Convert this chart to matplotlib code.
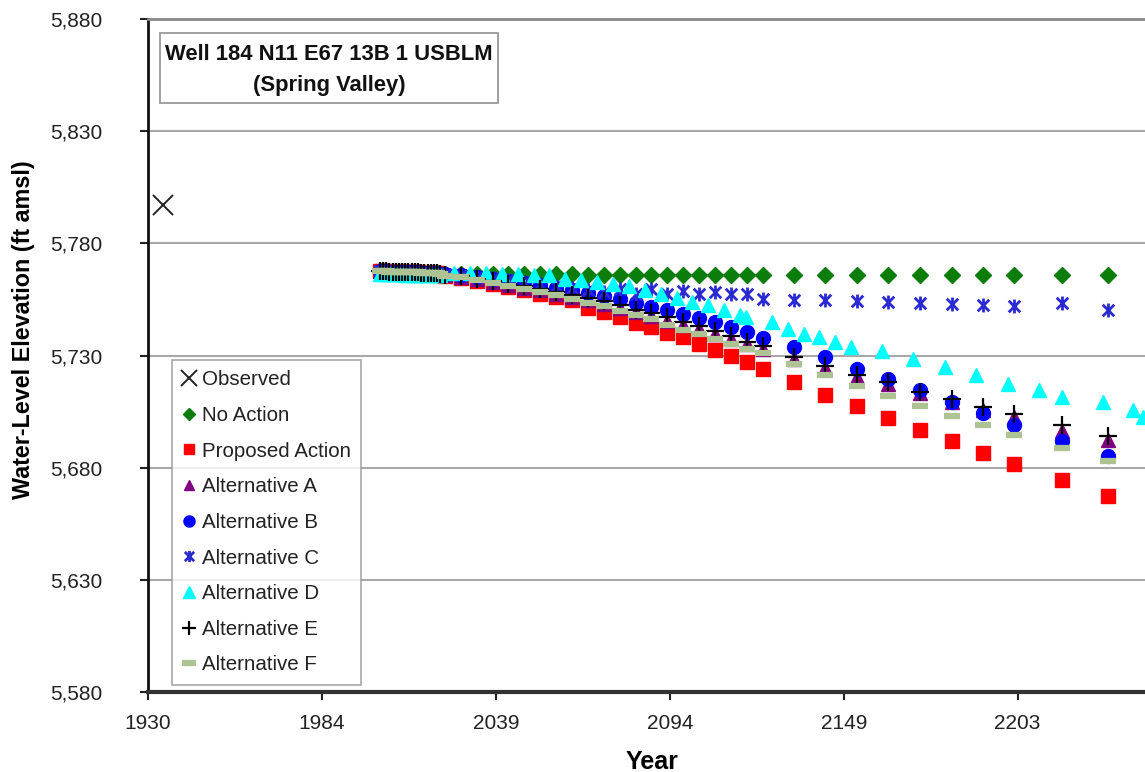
import matplotlib
matplotlib.use("Agg")
import matplotlib.pyplot as plt
from matplotlib.path import Path
from matplotlib.patches import Rectangle

plt.rcParams['font.family'] = ['Liberation Sans', 'DejaVu Sans']

# ---------------- data ----------------
obs_years = [1934.7]
obs_elev = [5797.0]

years_main = [2003, 2004, 2005, 2006, 2007, 2008, 2009, 2010, 2011, 2012,
              2013, 2014, 2015, 2016, 2017, 2018, 2019, 2020, 2021, 2022,
              2023.5, 2028.5, 2033.5, 2038.5, 2043.5, 2048.5, 2053.5, 2058.5,
              2063.5, 2068.5, 2073.5, 2078.5, 2083.5, 2088.5, 2093.5, 2098.5,
              2103.5, 2108.5, 2113.5, 2118.5, 2123.5,
              2133.3, 2143.2, 2153.1, 2163.1, 2173.1, 2183.1, 2192.9, 2202.8,
              2217.7, 2232.4]

early = [5767.6, 5767.5, 5767.5, 5767.4, 5767.4, 5767.3, 5767.3, 5767.2, 5767.2, 5767.1,
         5767.1, 5767.0, 5767.0, 5766.9, 5766.9, 5766.8, 5766.8, 5766.7, 5766.6, 5766.5]

no_action = early + [5766.4, 5766.4, 5766.3, 5766.3, 5766.3, 5766.2, 5766.2, 5766.2,
                     5766.2, 5766.1, 5766.1, 5766.1, 5766.1, 5766.0, 5766.0, 5766.0,
                     5766.0, 5766.0, 5765.9, 5765.9, 5765.9,
                     5765.9, 5765.9, 5765.9, 5765.8, 5765.8, 5765.8, 5765.8, 5765.8,
                     5765.8, 5765.8]

proposed = early + [5765.6, 5764.6, 5763.3, 5761.9, 5760.5, 5759.0, 5757.6, 5756.0,
                    5754.6, 5751.2, 5749.3, 5747.1, 5744.6, 5742.6, 5740.0, 5738.2,
                    5735.2, 5732.6, 5730.0, 5727.0, 5724.1,
                    5718.4, 5712.6, 5707.7, 5702.2, 5696.8, 5691.7, 5686.6, 5681.6,
                    5674.5, 5667.4]

alt_a = early + [5765.8, 5765.0, 5764.0, 5762.8, 5761.6, 5760.3, 5759.0, 5757.6,
                 5756.2, 5754.7, 5753.0, 5751.3, 5749.5, 5747.8, 5745.5, 5743.5,
                 5741.8, 5739.6, 5737.2, 5735.0, 5733.0,
                 5728.5, 5724.5, 5720.6, 5717.1, 5713.2, 5709.2, 5705.8, 5702.5,
                 5696.5, 5692.4]

alt_b = early + [5766.3, 5765.8, 5765.0, 5764.1, 5763.2, 5762.3, 5761.3, 5760.2,
                 5759.0, 5757.8, 5756.6, 5755.0, 5753.3, 5751.6, 5750.1, 5748.6,
                 5746.8, 5744.9, 5742.6, 5740.4, 5737.9,
                 5733.7, 5729.2, 5724.1, 5719.6, 5714.4, 5709.2, 5704.2, 5699.2,
                 5692.1, 5685.4]

alt_c = early + [5766.3, 5765.9, 5765.2, 5764.4, 5763.5, 5762.6, 5761.7, 5760.8,
                 5760.0, 5759.4, 5758.3, 5759.8, 5757.6, 5759.5, 5757.6, 5758.8,
                 5757.5, 5758.2, 5757.6, 5757.5, 5755.3,
                 5754.9, 5754.6, 5754.1, 5753.8, 5753.5, 5752.8, 5752.3, 5751.9,
                 5753.4, 5750.5]

alt_e = early + [5766.0, 5765.3, 5764.3, 5763.2, 5762.0, 5760.8, 5759.6, 5758.3,
                 5757.0, 5755.6, 5754.1, 5752.4, 5750.5, 5749.0, 5747.0, 5745.0,
                 5743.0, 5741.0, 5738.5, 5736.0, 5734.2,
                 5729.2, 5725.5, 5721.1, 5718.1, 5713.6, 5710.7, 5707.2, 5704.0,
                 5699.2, 5694.3]

alt_f = early + [5765.6, 5764.8, 5763.7, 5762.4, 5761.1, 5759.7, 5758.3, 5756.8,
                 5755.2, 5753.6, 5751.9, 5750.0, 5747.9, 5746.4, 5743.4, 5741.2,
                 5739.7, 5737.5, 5735.2, 5733.0, 5731.0,
                 5726.3, 5721.5, 5716.6, 5712.1, 5707.7, 5703.2, 5699.1, 5694.7,
                 5688.8, 5682.8]

years_d = [2003, 2004, 2005, 2006, 2007, 2008, 2009, 2010, 2011, 2012,
           2013, 2014, 2015, 2016, 2017, 2018, 2019, 2020, 2021, 2022,
           2026.4, 2031.4, 2036.4, 2041.4, 2046.4, 2051.4, 2056.4, 2061.4,
           2066.4, 2071.4, 2076.4, 2081.4, 2086.4, 2091.4, 2096.4, 2101.4,
           2106.4, 2111.4, 2116.4, 2118.2, 2126.4, 2131.4, 2136.4, 2141.4,
           2146.4, 2151.4, 2161.0, 2171.0, 2181.0, 2190.8, 2200.8, 2210.6,
           2217.7, 2230.6, 2240.2, 2243.3]
alt_d = [5766.4, 5766.4, 5766.3, 5766.3, 5766.3, 5766.2, 5766.2, 5766.2, 5766.1, 5766.1,
         5766.1, 5766.0, 5766.0, 5766.0, 5766.0, 5765.9, 5765.9, 5765.9, 5765.9, 5765.8,
         5766.9, 5766.8, 5766.7, 5766.5, 5766.3, 5766.0, 5765.7, 5764.3,
         5763.5, 5762.8, 5762.0, 5760.9, 5759.4, 5757.5, 5755.6, 5753.8,
         5752.3, 5750.5, 5747.9, 5747.1, 5744.9, 5741.9, 5739.7, 5738.2,
         5735.9, 5733.7, 5732.0, 5728.5, 5724.8, 5721.1, 5717.5, 5714.4,
         5711.4, 5709.2, 5705.5, 5702.5]

x_tick_vals = [1930.0, 1984.76, 2039.52, 2094.28, 2149.04, 2203.8]
x_tick_labels = ['1930', '1984', '2039', '2094', '2149', '2203']
y_ticks = [5580, 5630, 5680, 5730, 5780, 5830, 5880]
y_tick_labels = ['5,580', '5,630', '5,680', '5,730', '5,780', '5,830', '5,880']

title_lines = ['Well 184 N11 E67 13B 1 USBLM', '(Spring Valley)']

# ---------------- figure ----------------
W, H = 1145, 772
fig = plt.figure(figsize=(W / 100, H / 100), dpi=100)
ax_l, ax_r, ax_t, ax_b = 148, 1145, 19, 692
AW, AH = ax_r - ax_l, ax_b - ax_t
ax = fig.add_axes([ax_l / W, 1 - ax_b / H, AW / W, AH / H])


def fx(px):
    return (px - ax_l) / AW


def fy(py):
    return 1 - (py - ax_t) / AH


ax.set_xlim(1930, 2243.9)
ax.set_ylim(5580, 5880)

star = Path([(-1, -1), (1, 1), (-1, 1), (1, -1), (0, -1.2), (0, 1.2)],
            [Path.MOVETO, Path.LINETO, Path.MOVETO, Path.LINETO, Path.MOVETO, Path.LINETO])

ax.plot(obs_years, obs_elev, ls='none', marker='x', ms=15, mew=1.4, color='#222222',
        label='Observed', zorder=3)
ax.plot(years_main, no_action, ls='none', marker='D', ms=8, color='#0a7d0a',
        label='No Action', zorder=3)
ax.plot(years_main, proposed, ls='none', marker='s', ms=9.5, color='#ff0000',
        label='Proposed Action', zorder=3)
ax.plot(years_main, alt_a, ls='none', marker='^', ms=9.5, color='#800080',
        label='Alternative A', zorder=3)
ax.plot(years_main, alt_b, ls='none', marker='o', ms=10, color='#0000ff',
        label='Alternative B', zorder=3)
ax.plot(years_main, alt_c, ls='none', marker=star, ms=10, mew=2, color='#2a2ad0',
        label='Alternative C', zorder=3)
ax.plot(years_d, alt_d, ls='none', marker='^', ms=10, color='#00ffff',
        label='Alternative D', zorder=3)
ax.plot(years_main, alt_e, ls='none', marker='+', ms=13, mew=1.6, color='#000000',
        label='Alternative E', zorder=3)
ax.plot(years_main, alt_f, ls='none', marker='_', ms=12, mew=4.5, color='#aec394',
        label='Alternative F', zorder=3)

ax.set_xticks(x_tick_vals)
ax.set_xticklabels(x_tick_labels, fontsize=15, color='#222222')
ax.set_yticks(y_ticks)
ax.set_yticklabels(y_tick_labels, fontsize=15, color='#222222')
ax.tick_params(axis='both', direction='out', length=6, width=1.5, color='#222222')
ax.tick_params(axis='y', pad=27)
ax.tick_params(axis='x', pad=10)

ax.grid(axis='y', color='#a8a8a8', lw=1.5)
ax.set_axisbelow(True)
ax.spines['right'].set_visible(False)
ax.spines['top'].set_color('#888888')
ax.spines['top'].set_linewidth(2)
ax.spines['left'].set_color('#111111')
ax.spines['left'].set_linewidth(2)
ax.spines['bottom'].set_color('#333333')
ax.spines['bottom'].set_linewidth(3)

ax.set_xlabel('Year', fontsize=18, fontweight='bold')
ax.xaxis.set_label_coords(fx(652), fy(750))
ax.set_ylabel('Water-Level Elevation (ft amsl)', fontsize=16.8, fontweight='bold')
ax.yaxis.set_label_coords(fx(35), fy(330))

# title box
ax.add_patch(Rectangle((fx(160), fy(103)), fx(498) - fx(160), fy(33) - fy(103),
                       transform=ax.transAxes, fc='white', ec='#999999', lw=1.3, zorder=4))
ax.text(fx(329), fy(54), title_lines[0], transform=ax.transAxes, ha='center', va='center',
        fontsize=15.8, fontweight='bold', color='#111111', zorder=5)
ax.text(fx(329), fy(86), title_lines[1], transform=ax.transAxes, ha='center', va='center',
        fontsize=15.8, fontweight='bold', color='#111111', zorder=5)

leg = ax.legend(loc='upper left', bbox_to_anchor=(fx(172), fy(360)),
                fontsize=14.8, frameon=True, fancybox=False, edgecolor='#999999',
                handlelength=0.7, handletextpad=0.25, labelspacing=0.81,
                borderpad=0.5, borderaxespad=0, markerscale=0.8)
leg.get_frame().set_linewidth(1.3)
for t in leg.get_texts():
    t.set_color('#222222')

fig.savefig('out.png', dpi=100)
